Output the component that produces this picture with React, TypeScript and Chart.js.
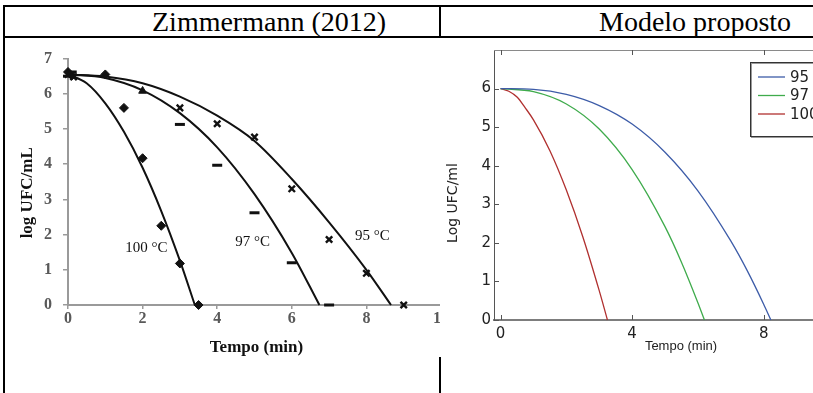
import React, { useEffect, useRef } from "react";
import { Chart, registerables } from "chart.js";

Chart.register(...registerables);

// ---------- Zimmermann (2012): measured survivors, log UFC/mL vs time (min) ----------
const zimTime95 = [0, 0.15, 3, 4, 5, 6, 7, 8, 9];
const zimLog95 = [6.55, 6.48, 5.6, 5.15, 4.77, 3.3, 1.86, 0.9, 0];
const zimTime97 = [0, 0.1, 2, 3, 4, 5, 6, 7];
const zimLog97 = [6.5, 6.62, 6.08, 5.13, 3.97, 2.62, 1.2, 0];
const zimMarker97 = ["line", "line", "triangle", "line", "line", "line", "line", "line"];
const zimTime100 = [0, 0.1, 1, 1.5, 2, 2.5, 3, 3.5];
const zimLog100 = [6.62, 6.52, 6.55, 5.6, 4.17, 2.25, 1.18, 0];

// ---------- Zimmermann (2012): fitted curves ----------
const fitTime95 = [0, 1, 2, 3, 4, 5, 6, 7, 8, 8.66];
const fitLog95 = [6.55, 6.49, 6.3, 5.92, 5.38, 4.66, 3.58, 2.35, 1.0, 0];
const fitTime97 = [0, 1, 2, 3, 4, 5, 6, 6.74];
const fitLog97 = [6.55, 6.45, 6.1, 5.45, 4.48, 3.15, 1.48, 0];
const fitTime100 = [0, 0.5, 1, 1.5, 2, 2.5, 3, 3.4];
const fitLog100 = [6.55, 6.3, 5.73, 4.92, 3.9, 2.67, 1.26, 0];

// ---------- Proposed model ----------
const modelTime95 = [0, 1, 2, 3, 4, 5, 6, 7, 7.5, 8, 8.22];
const modelLog95 = [6, 5.98, 5.85, 5.56, 5.08, 4.35, 3.35, 2.05, 1.28, 0.41, 0];
const modelTime97 = [0, 1, 2, 3, 4, 5, 5.5, 6, 6.2];
const modelLog97 = [6, 5.92, 5.6, 4.95, 3.9, 2.42, 1.5, 0.45, 0];
const modelTime100 = [0, 0.25, 0.5, 0.75, 1, 1.5, 2, 2.5, 3, 3.25];
const modelLog100 = [6, 5.93, 5.78, 5.5, 5.19, 4.39, 3.37, 2.16, 0.76, 0];

// ---------- Labels and ticks ----------
const temperatures = ["95", "97", "100"];
const curveLabels = temperatures.map((t) => `${t} °C`);
const leftXTicks = [0, 2, 4, 6, 8, 10];
const leftYTicks = [0, 1, 2, 3, 4, 5, 6, 7];
const rightXTicks = [0, 4, 8];
const rightYTicks = [0, 1, 2, 3, 4, 5, 6];

// where each temperature label sits on the left plot (time, log)
const labelAnchorTime = [8.16, 4.95, 2.1];
const labelAnchorLog = [1.97, 1.8, 1.63];

const SERIF = "'Liberation Serif', 'Times New Roman', serif";
const SANS = "'DejaVu Sans', sans-serif";
const ARIAL = "'Liberation Sans', Arial, sans-serif";

const pts = (xs: number[], ys: number[]) => xs.map((x, i) => ({ x, y: ys[i] }));

function ZimmermannChart() {
  const ref = useRef<HTMLCanvasElement>(null);
  useEffect(() => {
    const curveText = {
      id: "curveText",
      afterDatasetsDraw(chart: any) {
        const { ctx, scales } = chart;
        ctx.save();
        ctx.font = `15px ${SERIF}`;
        ctx.fillStyle = "#111";
        ctx.textAlign = "center";
        ctx.textBaseline = "middle";
        curveLabels.forEach((txt, i) => {
          ctx.fillText(
            txt,
            scales.x.getPixelForValue(labelAnchorTime[i]),
            scales.y.getPixelForValue(labelAnchorLog[i])
          );
        });
        ctx.restore();
      },
    };
    const axisTitles = {
      id: "axisTitles",
      afterDraw(chart: any) {
        const { ctx, chartArea: a } = chart;
        ctx.save();
        ctx.font = `bold 17px ${SERIF}`;
        ctx.fillStyle = "#111";
        ctx.textAlign = "center";
        ctx.textBaseline = "middle";
        ctx.fillText("Tempo (min)", (a.left + a.right) / 2 + 2, a.bottom + 43);
        ctx.translate(a.left - 40, (a.top + a.bottom) / 2 + 11);
        ctx.rotate(-Math.PI / 2);
        ctx.fillText("log UFC/mL", 0, 0);
        ctx.restore();
      },
    };
    const lineStyle = {
      showLine: true,
      borderColor: "#111",
      borderWidth: 2,
      pointRadius: 0,
      cubicInterpolationMode: "monotone",
      clip: false,
    };
    const chart = new Chart(ref.current as HTMLCanvasElement, {
      type: "scatter",
      data: {
        datasets: [
          {
            label: "95",
            data: pts(zimTime95, zimLog95),
            pointStyle: "crossRot",
            pointRadius: 4.5,
            borderColor: "#111",
            backgroundColor: "#111",
            pointBorderWidth: 2.4,
            clip: false,
          },
          {
            label: "97",
            data: pts(zimTime97, zimLog97),
            pointStyle: zimMarker97,
            pointRadius: zimMarker97.map((m) => (m === "triangle" ? 4.5 : 5)),
            borderColor: "#111",
            backgroundColor: "#111",
            pointBorderWidth: zimMarker97.map((m) => (m === "triangle" ? 1 : 3)),
            clip: false,
          },
          {
            label: "100",
            data: pts(zimTime100, zimLog100),
            pointStyle: "rectRot",
            pointRadius: 4.5,
            borderColor: "#111",
            backgroundColor: "#111",
            pointBorderWidth: 1,
            clip: false,
          },
          { label: "fit 95", data: pts(fitTime95, fitLog95), ...lineStyle },
          { label: "fit 97", data: pts(fitTime97, fitLog97), ...lineStyle },
          { label: "fit 100", data: pts(fitTime100, fitLog100), ...lineStyle },
        ] as any,
      },
      options: {
        responsive: false,
        animation: false,
        events: [],
        layout: { padding: { left: 0, right: 34, top: 18, bottom: 0 } },
        plugins: { legend: { display: false }, tooltip: { enabled: false } },
        scales: {
          x: {
            type: "linear",
            min: 0,
            max: 10,
            afterFit: (s: any) => {
              s.height = 52;
            },
            afterBuildTicks: (s: any) => {
              s.ticks = leftXTicks.map((v) => ({ value: v }));
            },
            ticks: {
              color: "#595959",
              font: { family: SERIF, size: 16, weight: "bold" },
              padding: 0,
              maxRotation: 0,
            },
            grid: { drawOnChartArea: false, color: "#9a9a9a", tickLength: 4, lineWidth: 1.5 },
            border: { color: "#9a9a9a", width: 2 },
          },
          y: {
            type: "linear",
            min: 0,
            max: 7,
            afterFit: (s: any) => {
              s.width = 63;
            },
            afterBuildTicks: (s: any) => {
              s.ticks = leftYTicks.map((v) => ({ value: v }));
            },
            ticks: {
              color: "#595959",
              font: { family: SERIF, size: 16, weight: "bold" },
              padding: 11,
            },
            grid: { drawOnChartArea: false, color: "#9a9a9a", tickLength: 5, lineWidth: 1.5 },
            border: { color: "#9a9a9a", width: 2 },
          },
        },
      } as any,
      plugins: [curveText, axisTitles],
    });
    return () => chart.destroy();
  }, []);
  return <canvas ref={ref} width={470} height={319} style={{ display: "block" }} />;
}

function ModelChart() {
  const ref = useRef<HTMLCanvasElement>(null);
  useEffect(() => {
    const frame = {
      id: "frame",
      afterDraw(chart: any) {
        const { ctx, chartArea: a, scales } = chart;
        ctx.save();
        // top edge of the axes box
        ctx.strokeStyle = "#8a8a8a";
        ctx.lineWidth = 1;
        ctx.beginPath();
        ctx.moveTo(a.left, a.top + 0.5);
        ctx.lineTo(a.right, a.top + 0.5);
        ctx.stroke();
        // inward tick marks
        ctx.strokeStyle = "#555";
        ctx.beginPath();
        rightXTicks.forEach((v) => {
          const px = Math.round(scales.x.getPixelForValue(v)) + 0.5;
          ctx.moveTo(px, a.bottom);
          ctx.lineTo(px, a.bottom - 5);
          ctx.moveTo(px, a.top);
          ctx.lineTo(px, a.top + 5);
        });
        rightYTicks.forEach((v) => {
          const py = Math.round(scales.y.getPixelForValue(v)) + 0.5;
          ctx.moveTo(a.left, py);
          ctx.lineTo(a.left + 5, py);
        });
        ctx.stroke();
        // titles
        ctx.fillStyle = "#222";
        ctx.textAlign = "center";
        ctx.textBaseline = "middle";
        ctx.font = `13px ${ARIAL}`;
        ctx.fillText("Tempo (min)", a.left + 187, a.bottom + 26);
        ctx.font = `14px ${SANS}`;
        ctx.translate(a.left - 41, a.top + 153);
        ctx.rotate(-Math.PI / 2);
        ctx.fillText("Log UFC/ml", 0, 0);
        ctx.restore();
      },
    };
    const legendBox = {
      id: "legendBox",
      afterDraw(chart: any) {
        const { ctx, chartArea: a } = chart;
        const x0 = a.left + 256;
        const y0 = a.top + 12;
        const w = 100;
        const h = 74;
        ctx.save();
        ctx.fillStyle = "#fff";
        ctx.fillRect(x0, y0, w, h);
        ctx.strokeStyle = "#9a9a9a";
        ctx.lineWidth = 1;
        ctx.strokeRect(x0 + 1.5, y0 + 1.5, w, h);
        ctx.strokeStyle = "#333";
        ctx.strokeRect(x0 + 0.5, y0 + 0.5, w, h);
        ctx.font = `15px ${SANS}`;
        ctx.textBaseline = "middle";
        ctx.textAlign = "left";
        chart.data.datasets.forEach((ds: any, i: number) => {
          const yy = y0 + 15 + i * 18.5;
          ctx.strokeStyle = ds.borderColor;
          ctx.lineWidth = 1.3;
          ctx.beginPath();
          ctx.moveTo(x0 + 8, yy);
          ctx.lineTo(x0 + 35, yy);
          ctx.stroke();
          ctx.fillStyle = "#222";
          ctx.fillText(ds.label, x0 + 40, yy + 1);
        });
        ctx.restore();
      },
    };
    const curve = {
      showLine: true,
      borderWidth: 1.3,
      pointRadius: 0,
      cubicInterpolationMode: "monotone",
      clip: false,
    };
    const chart = new Chart(ref.current as HTMLCanvasElement, {
      type: "scatter",
      data: {
        datasets: [
          { label: temperatures[0], data: pts(modelTime95, modelLog95), borderColor: "#3d5ca8", ...curve },
          { label: temperatures[1], data: pts(modelTime97, modelLog97), borderColor: "#3fab4c", ...curve },
          { label: temperatures[2], data: pts(modelTime100, modelLog100), borderColor: "#b0302f", ...curve },
        ] as any,
      },
      options: {
        responsive: false,
        animation: false,
        events: [],
        layout: { padding: { left: 0, right: 24, top: 8, bottom: 0 } },
        plugins: { legend: { display: false }, tooltip: { enabled: false } },
        scales: {
          x: {
            type: "linear",
            min: -0.2,
            max: 10.2,
            afterFit: (s: any) => {
              s.height = 37;
            },
            afterBuildTicks: (s: any) => {
              s.ticks = rightXTicks.map((v) => ({ value: v }));
            },
            ticks: { color: "#222", font: { family: SANS, size: 15 }, padding: 5, maxRotation: 0 },
            grid: { display: false, drawTicks: false },
            border: { color: "#7d7d7d", width: 2 },
          },
          y: {
            type: "linear",
            min: 0,
            max: 7,
            afterFit: (s: any) => {
              s.width = 54;
            },
            afterBuildTicks: (s: any) => {
              s.ticks = rightYTicks.map((v) => ({ value: v }));
            },
            ticks: { color: "#222", font: { family: SANS, size: 15 }, padding: 3 },
            grid: { display: false, drawTicks: false },
            border: { color: "#555", width: 1 },
          },
        },
      } as any,
      plugins: [frame, legendBox],
    });
    return () => chart.destroy();
  }, []);
  return <canvas ref={ref} width={420} height={319} style={{ display: "block" }} />;
}

const rule = (left: number, top: number, width: number, height: number): React.CSSProperties => ({
  position: "absolute",
  left,
  top,
  width,
  height,
  background: "#000",
});

export default function App() {
  const headText: React.CSSProperties = {
    position: "absolute",
    top: 8,
    fontFamily: SERIF,
    fontSize: 28,
    lineHeight: "28px",
    color: "#000",
    whiteSpace: "nowrap",
  };
  return (
    <div style={{ position: "fixed", left: 0, top: 0, width: 813, height: 393, background: "#fff", overflow: "hidden" }}>
      <div style={{ position: "absolute", left: 5, top: 38, width: 435, height: 319, overflow: "hidden" }}>
        <ZimmermannChart />
      </div>
      <div style={{ position: "absolute", left: 440, top: 38, width: 373, height: 319, overflow: "hidden" }}>
        <ModelChart />
      </div>
      <div style={{ ...headText, left: 152 }}>Zimmermann (2012)</div>
      <div style={{ ...headText, left: 599 }}>Modelo proposto</div>
      <div style={rule(3, 5, 810, 2)} />
      <div style={rule(3, 36, 810, 2)} />
      <div style={rule(3, 5, 2, 388)} />
      <div style={rule(439, 5, 2, 33)} />
      <div style={rule(439, 357, 2, 36)} />
    </div>
  );
}
